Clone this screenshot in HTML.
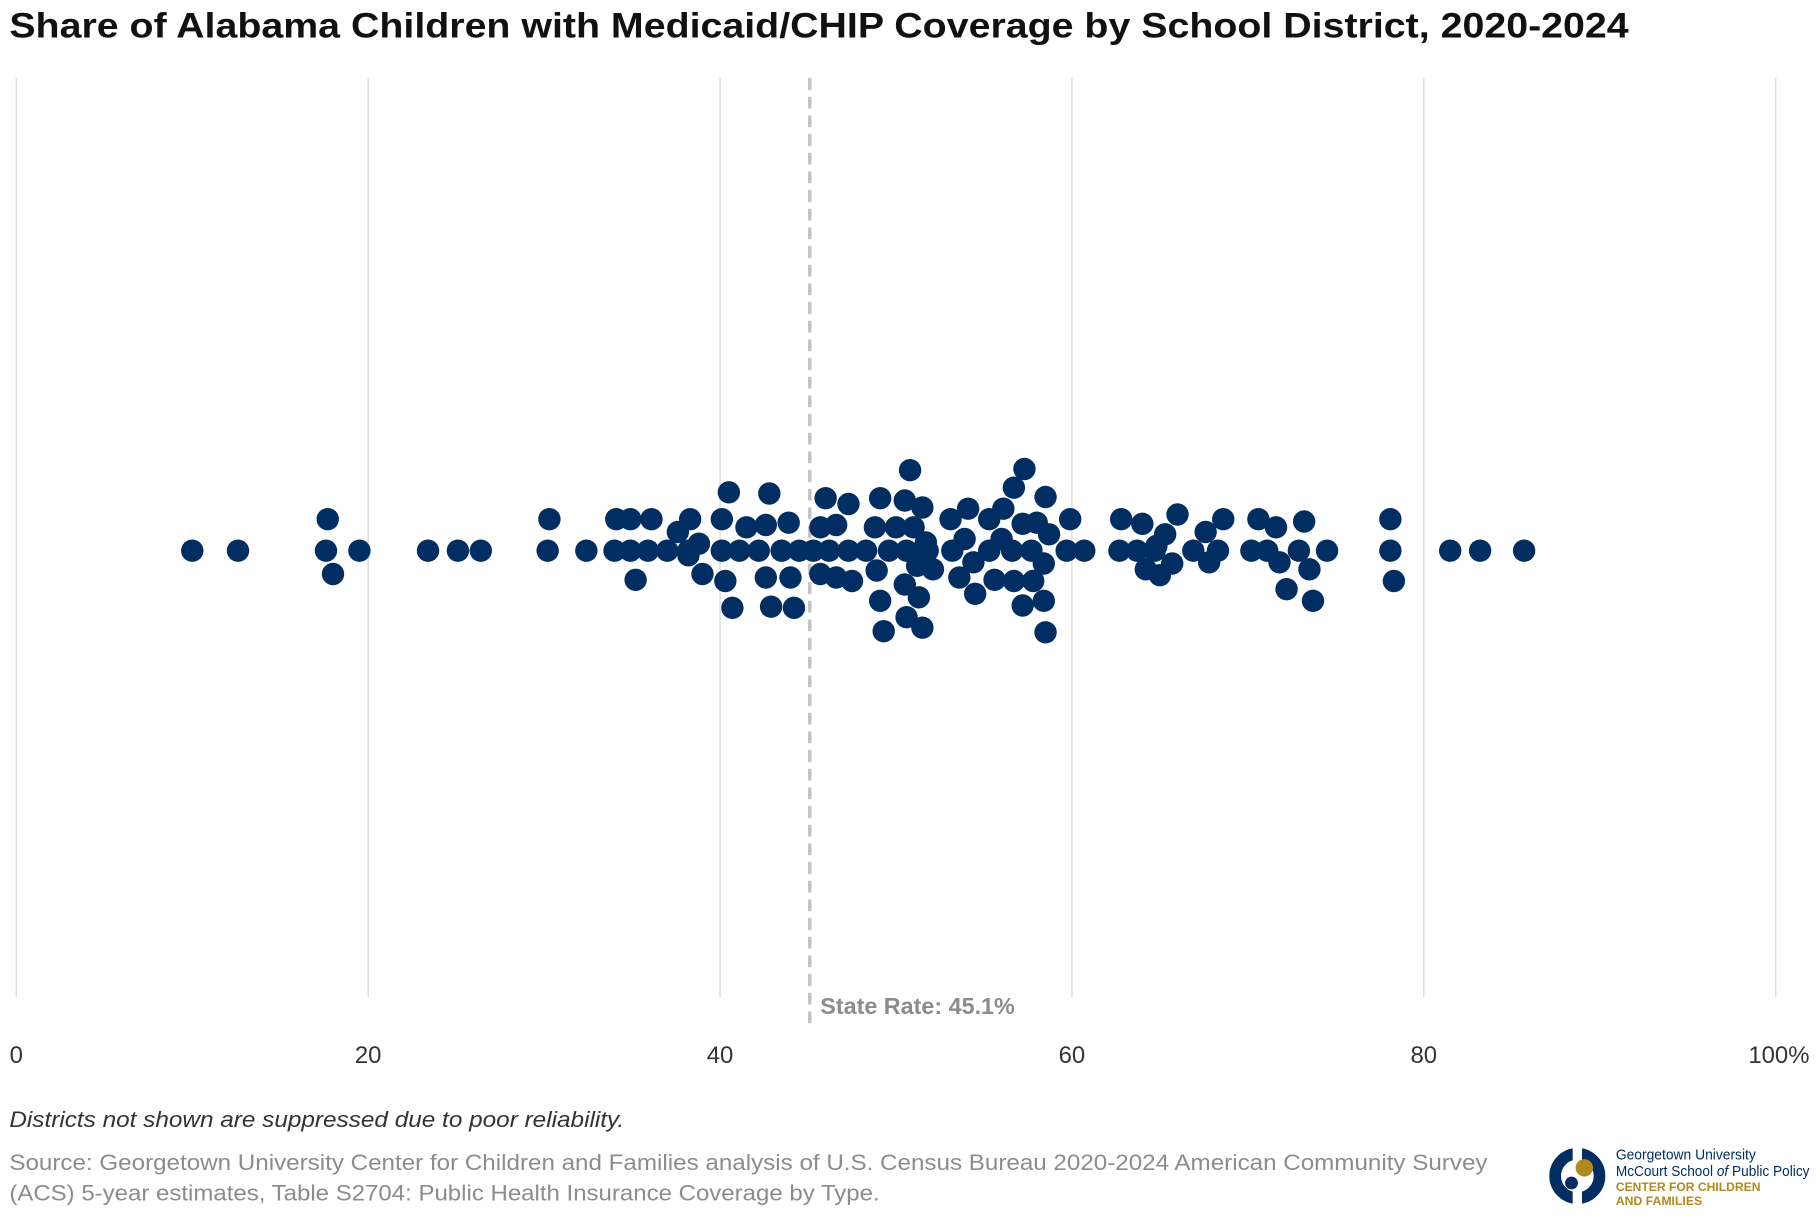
<!DOCTYPE html>
<html><head><meta charset="utf-8"><style>
html,body{margin:0;padding:0;background:#fff;}
svg{display:block;}
text{font-family:"Liberation Sans",sans-serif;}
</style></head><body>
<svg id="chart" width="1820" height="1220" viewBox="0 0 1560 1045.71" xmlns="http://www.w3.org/2000/svg">
<text x="8" y="32" font-size="30" fill="#111" font-weight="bold" textLength="1388" lengthAdjust="spacingAndGlyphs">Share of Alabama Children with Medicaid/CHIP Coverage by School District, 2020-2024</text>
<g id="grid"></g>
<g id="ticks"></g>
<g id="ref"></g>
<g id="dots"></g>
<text x="8" y="966" font-size="19" font-style="italic" fill="#333" textLength="527" lengthAdjust="spacingAndGlyphs">Districts not shown are suppressed due to poor reliability.</text>
<text x="8" y="1003" font-size="19" fill="#8c8c8c" textLength="1267" lengthAdjust="spacingAndGlyphs">Source: Georgetown University Center for Children and Families analysis of U.S. Census Bureau 2020-2024 American Community Survey</text>
<text x="8" y="1029" font-size="19" fill="#8c8c8c" textLength="746" lengthAdjust="spacingAndGlyphs">(ACS) 5-year estimates, Table S2704: Public Health Insurance Coverage by Type.</text>
<g>
<circle cx="1352" cy="1008" r="19" fill="none" stroke="#002d62" stroke-width="10"/>
<rect x="1348" y="981" width="8" height="56" fill="#fff"/>
<circle cx="1358" cy="1001" r="7.5" fill="#b08a1e"/>
<circle cx="1347" cy="1014" r="5.5" fill="#002d62"/>
<text x="1385" y="994" font-size="12.5" fill="#002d62" font-family="Liberation Serif,serif" textLength="120" lengthAdjust="spacingAndGlyphs">Georgetown University</text>
<text x="1385" y="1008" font-size="12.5" fill="#002d62" font-family="Liberation Serif,serif" textLength="166" lengthAdjust="spacingAndGlyphs">McCourt School <tspan font-style="italic">of</tspan> Public Policy</text>
<text x="1385" y="1021" font-size="10" fill="#b08a1e" font-weight="bold" textLength="124" lengthAdjust="spacingAndGlyphs">CENTER FOR CHILDREN</text>
<text x="1385" y="1033" font-size="10" fill="#b08a1e" font-weight="bold" textLength="74" lengthAdjust="spacingAndGlyphs">AND FAMILIES</text>
</g>
</svg>
<script>
const tickValues=[0,20,40,60,80,100];
const tickLabels=["0","20","40","60","80","100%"];
const stateRate=45.1;
const districtRates=[10.0,12.6,17.6,19.5,23.4,25.1,26.4,30.2,32.4,34.0,34.9,35.9,37.0,38.2,40.1,41.1,42.2,43.5,44.5,45.3,46.2,47.3,48.3,49.6,50.6,51.8,53.2,55.3,56.6,57.7,59.7,60.7,62.7,63.7,64.7,66.9,68.3,70.2,71.1,72.9,74.5,78.1,81.5,83.2,85.7,
17.7,18.0,30.3,34.1,34.9,36.1,35.2,37.6,38.3,38.8,38.2,39.0,40.1,40.5,40.3,40.7,41.5,42.6,42.8,42.6,42.9,43.9,44.0,44.2,
45.7,46.0,46.6,47.3,45.7,46.6,47.5,48.8,49.1,48.9,49.1,49.3,50.0,50.5,51.0,50.8,51.5,51.7,50.5,51.2,51.3,50.6,51.5,52.1,
53.1,54.1,53.9,53.6,54.4,54.5,55.3,56.1,56.7,57.3,56.0,55.6,56.7,57.2,58.0,58.5,58.7,57.2,57.8,58.4,58.5,58.4,59.9,
62.8,64.0,66.0,65.3,64.8,64.2,65.0,65.7,67.6,68.6,67.8,70.6,71.6,71.8,72.2,73.2,73.5,73.7,78.1,78.3];
const swarmOffset=[0,0,0,0,0,0,0,0,0,0,0,0,0,0,0,0,0,0,0,0,0,0,0,0,0,0,0,0,0,0,0,0,0,0,0,0,0,0,0,0,0,0,0,0,0,
-27,20,-27,-27,-27,-27,25,-16,-27,-6,4,20,-27,-50,26,49,-20,-22,-49,23,48,-24,23,49,
-20,-45,-22,-40,20,23,26,-20,-45,17,43,69,-20,-43,-20,-69,-37,-7,29,13,40,57,66,16,
-27,-36,-10,23,10,37,-27,-36,-54,-70,-10,25,26,-23,-24,-46,-14,47,26,43,70,11,-27,
-27,-23,-31,-14,-4,16,21,11,-16,-27,10,-27,-20,10,33,-25,16,43,-27,26];
const NS="http://www.w3.org/2000/svg";
const x=v=>14+v*15.08;
const cy=472;
const grid=document.getElementById('grid'),ticks=document.getElementById('ticks'),ref=document.getElementById('ref'),dots=document.getElementById('dots');
tickValues.forEach((t,i)=>{
  const l=document.createElementNS(NS,'line');
  
  
  l.setAttribute('x1',x(t));l.setAttribute('x2',x(t));l.setAttribute('y1',67);l.setAttribute('y2',855);
  l.setAttribute('stroke','#dedede');l.setAttribute('stroke-width',1.3);
  grid.appendChild(l);
  const tx=document.createElementNS(NS,'text');
  
  
  tx.setAttribute('x',i===tickValues.length-1?x(t)+29:x(t));tx.setAttribute('y',911);
  tx.setAttribute('font-size',20.5);tx.setAttribute('fill','#333');
  tx.setAttribute('text-anchor',i===tickValues.length-1?'end':'middle');
  tx.textContent=tickLabels[i];
  ticks.appendChild(tx);
});
const rl=document.createElementNS(NS,'line');


rl.setAttribute('x1',x(stateRate));rl.setAttribute('x2',x(stateRate));rl.setAttribute('y1',67);rl.setAttribute('y2',880);
rl.setAttribute('stroke','#c4c4c4');rl.setAttribute('stroke-width',3);rl.setAttribute('stroke-dasharray','10 6');
ref.appendChild(rl);
const rt=document.createElementNS(NS,'text');


rt.setAttribute('x',x(stateRate)+9);rt.setAttribute('y',869);rt.setAttribute('font-size',20);rt.setAttribute('font-weight','bold');rt.setAttribute('fill','#8c8c8c');
rt.textContent='State Rate: '+stateRate+'%';
ref.appendChild(rt);
districtRates.forEach((v,i)=>{
  const c=document.createElementNS(NS,'circle');
  
  
  c.setAttribute('cx',x(v));c.setAttribute('cy',cy+swarmOffset[i]);c.setAttribute('r',9.6);
  c.setAttribute('fill','#002d62');
  const t=document.createElementNS(NS,'title');t.textContent=v+'%';c.appendChild(t);
  dots.appendChild(c);
});
</script>
</body></html>
